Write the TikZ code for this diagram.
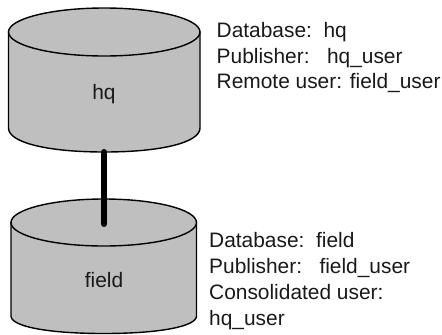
\documentclass[tikz,border=0pt]{standalone}
\usepackage{fontspec}
\setmainfont{Liberation Sans}
\definecolor{dbgray}{gray}{0.75}
\tikzset{
 px/.style={x=1bp,y=-1bp},
 dbline/.style={draw=black,line width=1.4bp,fill=dbgray},
 txt/.style={inner sep=0pt,font=\fontsize{20.9bp}{25bp}\selectfont,text=black!90},
 lbl/.style={txt,anchor=base west},
 clbl/.style={txt,anchor=base}
}
\tikzset{link/.style={line width=6bp,draw=black,line cap=round}}
\newcommand{\cyl}[6]{% left right top bottom ry-top ry-bottom
 \draw[dbline] (#1,#3) -- (#1,#4) .. controls (#1,{#4+0.6*#6}) and ({#1+0.2*(#2-#1)},{#4+#6}) .. ({(#1+#2)/2},{#4+#6}) .. controls ({#2-0.2*(#2-#1)},{#4+#6}) and (#2,{#4+0.6*#6}) .. (#2,#4) -- (#2,#3) -- cycle;
 \draw[dbline] ({(#1+#2)/2},#3) ellipse[x radius={(#2-#1)/2},y radius=#5];
}
\begin{document}
\begin{tikzpicture}[px]
\useasboundingbox (0,0) rectangle (442,334);
\cyl{8.5}{200}{32}{128}{24}{24}
\cyl{11}{196.5}{222.5}{316}{23.5}{17.5}
\coordinate (linkA) at (104,152);
\coordinate (linkB) at (104,224);
\draw[link] (linkA) -- (linkB);
\node[clbl] (hq) at (104,99) {hq};
\node[clbl] (field) at (104,287) {field};
\node[lbl] (t1) at (216.5,37.5) {Database:\ \ hq};
\node[lbl] (t2) at (216.5,63) {Publisher:\ \ \ hq\_user};
\node[lbl] (t3) at (216.5,88.5) {Remote user: field\_user};
\node[lbl] (b1) at (209,247) {Database:\ \ field};
\node[lbl] (b2) at (209,273.5) {Publisher:\ \ \ field\_user};
\node[lbl] (b3) at (209,299) {Consolidated user:};
\node[lbl] (b4) at (209,325) {hq\_user};
\end{tikzpicture}
\end{document}
